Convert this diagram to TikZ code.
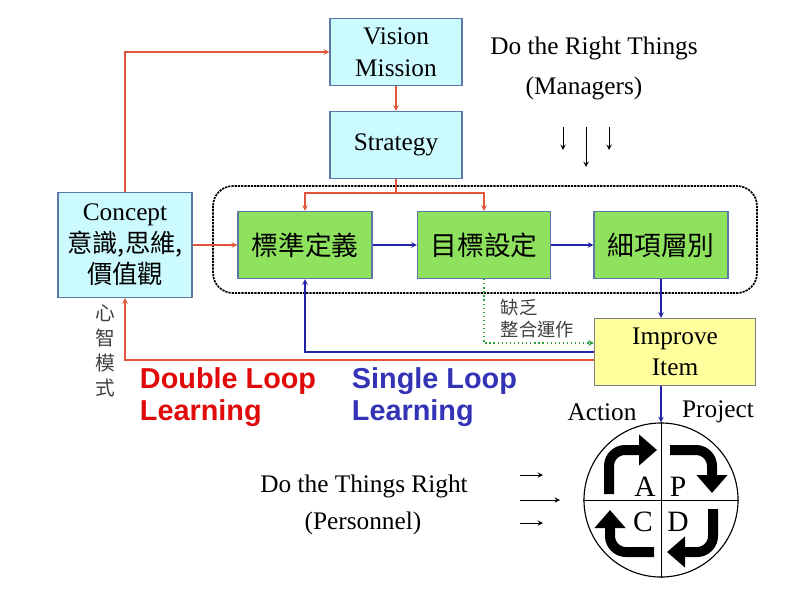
\documentclass[tikz,border=0pt]{standalone}
\usepackage{fontspec}
\setmainfont{Liberation Serif}
\setsansfont{Liberation Sans}
\newfontfamily\cjk{Noto Sans CJK TC}
\usetikzlibrary{arrows.meta}

\definecolor{skyfill}{HTML}{CCFBFF}
\definecolor{leaf}{HTML}{8EE25E}
\definecolor{lemon}{HTML}{FFFF9E}
\definecolor{boxline}{HTML}{5C77A6}
\definecolor{loopred}{HTML}{E2553A}
\definecolor{loopblue}{HTML}{2222A8}
\definecolor{dotgreen}{HTML}{2E9E3A}
\definecolor{dblred}{HTML}{E00A0A}
\definecolor{sglblue}{HTML}{3333B5}

\begin{document}
\begin{tikzpicture}[x=0.025cm, y=-0.025cm, >=stealth,
    box/.style={draw=boxline, line width=0.8pt, inner sep=0pt, align=center,
        font=\fontsize{18}{22.5}\selectfont},
    skybox/.style={box, fill=skyfill, minimum width=3.3cm, minimum height=1.675cm},
    greenbox/.style={box, fill=leaf, minimum width=3.35cm, minimum height=1.675cm,
        font=\cjk\fontsize{19}{22}\selectfont},
    redarr/.style={->, draw=loopred, line width=0.8pt},
    bluearr/.style={->, draw=loopblue, line width=0.8pt},
    greenarr/.style={->, draw=dotgreen, line width=0.9pt, dotted},
    cyclearr/.style={line width=0.25cm, rounded corners=0.4cm,
        -{Triangle[length=0.45cm, width=0.75cm]}},
    label/.style={font=\fontsize{18}{22.5}\selectfont, align=center},
    loopnote/.style={font=\sffamily\bfseries\fontsize{20.5}{22.5}\selectfont, align=left, anchor=west}]

    \useasboundingbox (0,0) rectangle (800,600);

    % Boxes
    \node[skybox] (vision) at (396,52) {Vision\\Mission};
    \node[skybox] (strategy) at (396,145) {Strategy};
    \node[skybox, minimum width=3.35cm, minimum height=2.625cm] (concept) at (125,245)
        {Concept\\{\cjk 意識,思維,}\\{\cjk 價值觀}};
    \node[greenbox] (std) at (305,245) {標準定義};
    \node[greenbox, minimum width=3.325cm] (goal) at (484,245) {目標設定};
    \node[greenbox] (detail) at (661,245) {細項層別};
    \node[box, draw=gray, fill=lemon, minimum width=4.025cm, minimum height=1.675cm]
        (improve) at (675,352) {Improve\\Item};

    % Dashed group
    \draw[line width=1.2pt, dash pattern=on 1.6pt off 0.7pt, rounded corners=0.5cm]
        (213,186) rectangle (757,293);

    % Red loop
    \coordinate (split) at (396,193);
    \draw[redarr] (concept.north) |- (vision.west);
    \draw[redarr] (vision.south) -- (strategy.north);
    \draw[draw=loopred, line width=0.8pt] (strategy.south) -- (split);
    \draw[redarr] (split) -| (std.north);
    \draw[redarr] (split) -| (goal.north);
    \draw[redarr] (concept.east) -- (std.west);
    \draw[redarr] ([yshift=-0.2cm]improve.west) -| (concept.south);

    % Blue loop
    \draw[bluearr] (std.east) -- (goal.west);
    \draw[bluearr] (goal.east) -- (detail.west);
    \draw[bluearr] (detail.south) -- (detail.south |- improve.north);
    \draw[bluearr] (improve.west) -| (std.south);

    % Green dotted
    \draw[greenarr] (goal.south) |- ([yshift=0.225cm]improve.west);
    \node[font=\cjk\fontsize{13}{16}\selectfont, text=black!75, align=left, anchor=north west]
        (lack) at (496,294) {缺乏\\整合運作};

    % Texts
    \node[label] (right) at (594,48) {Do the Right Things};
    \node[label] (managers) at (584,88) {(Managers)};
    \node[font=\cjk\fontsize{14}{17.8}\selectfont, text=black!75, align=center]
        (mind) at (105,351) {心\\智\\模\\式};
    \node[loopnote, text=dblred] (double) at (135,397) {Double Loop\\Learning};
    \node[loopnote, text=sglblue] (single) at (347,397) {Single Loop\\Learning};
    \node[label] (action) at (602,412) {Action};
    \node[label] (project) at (718,412) {Project};
    \node[label] (things) at (364,486) {Do the Things Right};
    \node[label] (personnel) at (363,523) {(Personnel)};

    % Small arrows
    \foreach \x/\y in {563/150, 586/167, 609/150}
        \draw[->, line width=0.7pt] (\x,127) -- (\x,\y);
    \foreach \y/\x in {475/543, 500/560, 523/543}
        \draw[->, line width=0.7pt] (520,\y) -- (\x,\y);

    % PDCA wheel
    \node[circle, draw, line width=0.8pt, minimum size=3.85cm, inner sep=0pt] (pdca) at (661,500) {};
    \draw[line width=0.6pt] (pdca.north) -- (pdca.south);
    \draw[line width=0.6pt] (pdca.west) -- (pdca.east);
    \draw[bluearr] (improve.south -| pdca.north) -- (pdca.north);
    \draw[cyclearr] (609,494) |- (657,450);
    \draw[cyclearr] (670,450) -| (712,493);
    \draw[cyclearr] (713,509) |- (667,552);
    \draw[cyclearr] (654,552) -| (610,510);
    \node[font=\fontsize{21}{25}\selectfont] (a) at (645,487) {A};
    \node[font=\fontsize{21}{25}\selectfont] (p) at (678,487) {P};
    \node[font=\fontsize{21}{25}\selectfont] (c) at (643,522) {C};
    \node[font=\fontsize{21}{25}\selectfont] (d) at (678,522) {D};
\end{tikzpicture}
\end{document}
